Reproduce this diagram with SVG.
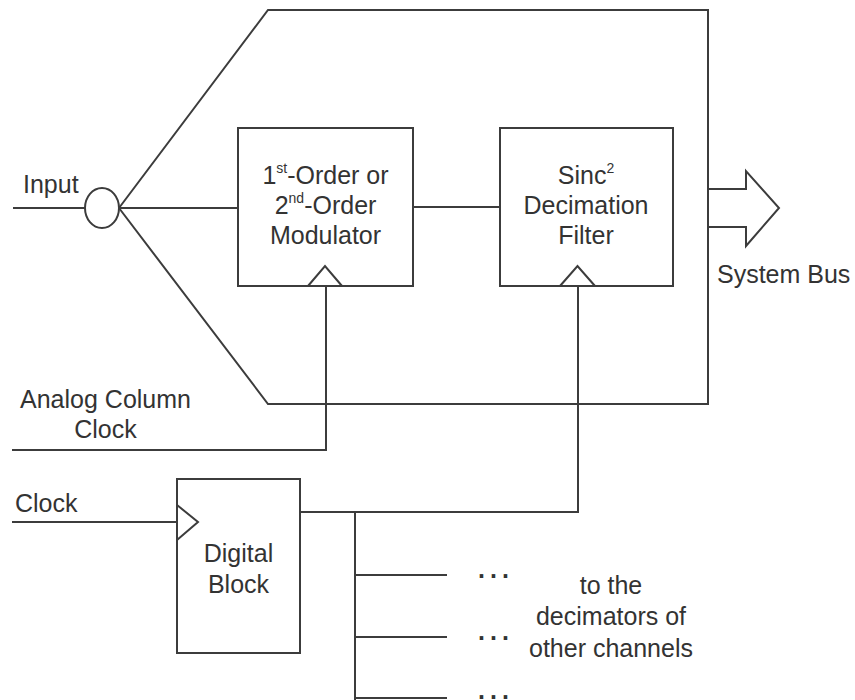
<svg xmlns="http://www.w3.org/2000/svg" width="855" height="700" viewBox="0 0 855 700">
<style>
.ln{fill:none;stroke:#3c3c3c;stroke-width:2;stroke-linejoin:miter}
.bx{fill:#fff;stroke:#3c3c3c;stroke-width:2}
.t{font-family:"Liberation Sans",Arial,sans-serif;font-size:25px;fill:#333}
.m{text-anchor:middle}
.sup{font-size:14px}
.dots{font-weight:bold;letter-spacing:5px}
</style>
<rect width="855" height="700" fill="#fff"/>
<g id="connectors">
<line class="ln" x1="13" y1="208" x2="85" y2="208"/>
<polyline class="ln" points="119,208 268,10 708,10 708,404 268,404 119,208"/>
<line class="ln" x1="119" y1="208" x2="238" y2="208"/>
<line class="ln" x1="413" y1="207" x2="500" y2="207"/>
<polyline class="ln" points="12,450 326,450 326,286"/>
<line class="ln" x1="12" y1="522" x2="177" y2="522"/>
<polyline class="ln" points="300,512 578,512 578,286"/>
<line class="ln" x1="355" y1="512" x2="355" y2="700"/>
<line class="ln" x1="355" y1="575" x2="447" y2="575"/>
<line class="ln" x1="355" y1="637" x2="447" y2="637"/>
<line class="ln" x1="355" y1="698" x2="447" y2="698"/>
</g>
<g id="junction">
<ellipse class="bx" cx="102" cy="208" rx="17" ry="20"/>
</g>
<g id="modulator">
<rect class="bx" x="238" y="128" width="175" height="158"/>
<polyline class="ln" points="308,286 325,266 342,286"/>
<text class="t m" x="325.5" y="184">1<tspan class="sup" dy="-11">st</tspan><tspan dy="11">-Order or</tspan></text>
<text class="t m" x="325.5" y="214">2<tspan class="sup" dy="-11">nd</tspan><tspan dy="11">-Order</tspan></text>
<text class="t m" x="325.5" y="244">Modulator</text>
</g>
<g id="sinc">
<rect class="bx" x="500" y="128" width="173" height="158"/>
<polyline class="ln" points="560,286 577.5,266 595,286"/>
<text class="t m" x="586" y="184">Sinc<tspan class="sup" dy="-11">2</tspan></text>
<text class="t m" x="586" y="214">Decimation</text>
<text class="t m" x="586" y="244">Filter</text>
</g>
<g id="digital">
<rect class="bx" x="177" y="479" width="123" height="174"/>
<polyline class="ln" points="177,505 198,522 177,540"/>
<text class="t m" x="238.5" y="562">Digital</text>
<text class="t m" x="238.5" y="593">Block</text>
</g>
<g id="bus">
<polygon class="bx" points="708,189 746,189 746,171 779,208 746,246 746,227 708,227"/>
<text class="t" x="717" y="283">System Bus</text>
</g>
<g id="labels">
<text class="t" x="23" y="193">Input</text>
<text class="t m" x="105.5" y="408">Analog Column</text>
<text class="t m" x="105.5" y="438">Clock</text>
<text class="t" x="15" y="512">Clock</text>
<text class="t dots" x="478" y="578">...</text>
<text class="t dots" x="478" y="640">...</text>
<text class="t dots" x="478" y="699">...</text>
<text class="t m" x="611" y="594">to the</text>
<text class="t m" x="611" y="625">decimators of</text>
<text class="t m" x="611" y="657">other channels</text>
</g>
</svg>
